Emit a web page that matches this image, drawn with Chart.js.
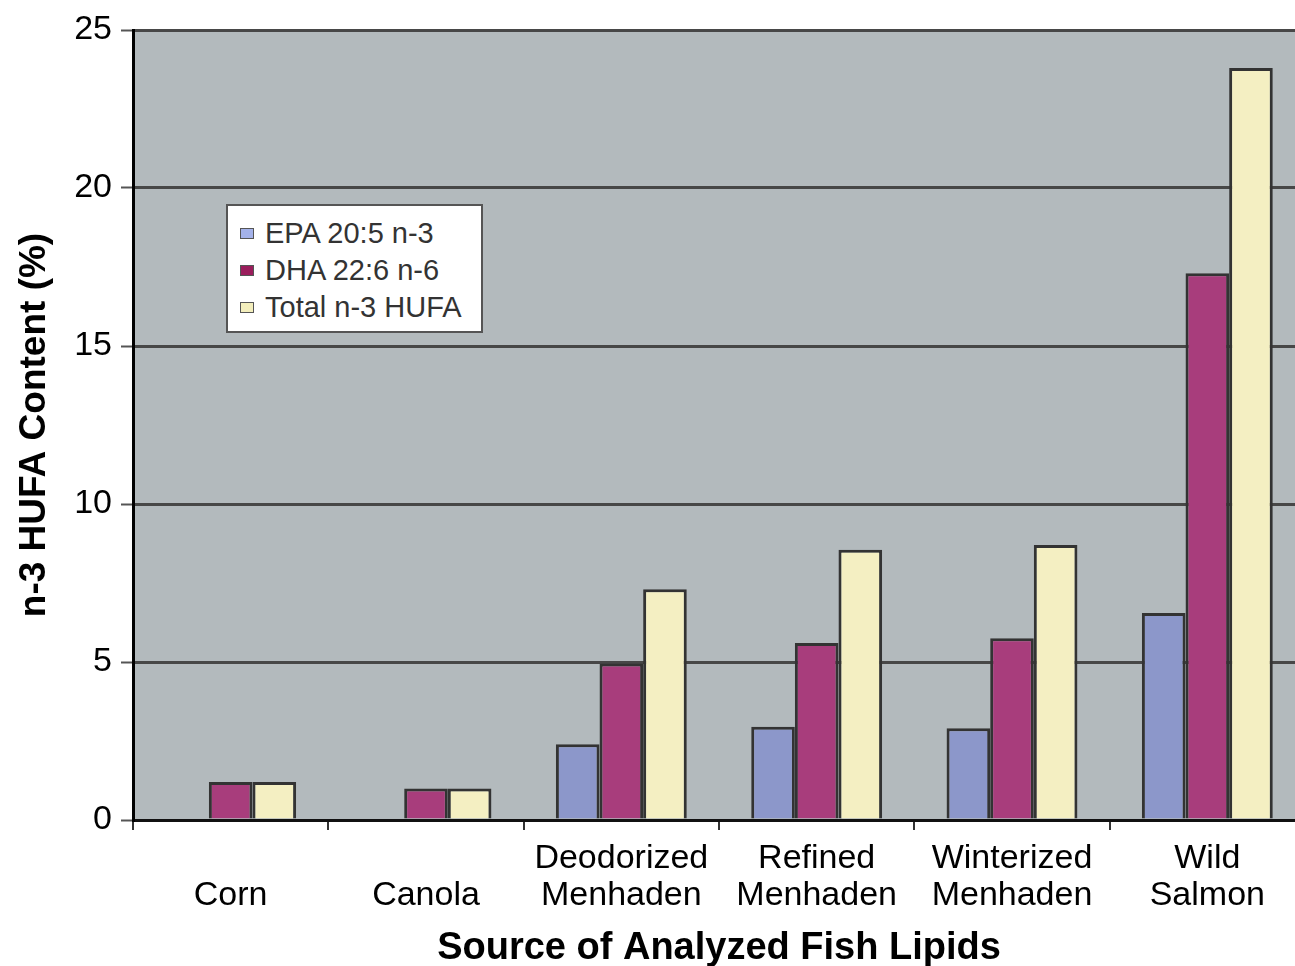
<!DOCTYPE html>
<html>
<head>
<meta charset="utf-8">
<title>n-3 HUFA Content</title>
<script src="https://cdn.jsdelivr.net/npm/chart.js@4"></script>
<style>
  html, body { margin: 0; padding: 0; background: #fff; overflow: hidden; }
  #wrap { position: relative; width: 1310px; height: 966px; }
  #legend {
    position: absolute; left: 226px; top: 204px; width: 253px; height: 125px;
    background: #fff; border: 2px solid #555;
    font-family: "Liberation Sans", Arial, sans-serif; font-size: 29px; color: #333;
  }
  #legend .row { position: absolute; left: 12px; height: 36px; line-height: 36px; white-space: nowrap; }
  #legend .sw { display: inline-block; width: 12px; height: 9px; border: 1px solid #555; margin-right: 11px; vertical-align: 4px; }
</style>
</head>
<body>
<div id="wrap">
  <canvas id="chart" width="1310" height="966"></canvas>
  <div id="legend"></div>
</div>
<script>
// categories (multi-line labels, bottom aligned like the original)
const categories = [
  ['', 'Corn'],
  ['', 'Canola'],
  ['Deodorized', 'Menhaden'],
  ['Refined', 'Menhaden'],
  ['Winterized', 'Menhaden'],
  ['Wild', 'Salmon']
];

const seriesNames = ['EPA 20:5 n-3', 'DHA 22:6 n-6', 'Total n-3 HUFA'];

const epa   = [0,   0,   2.4, 2.95, 2.9, 6.55];
const dha   = [1.2, 1.0, 4.95, 5.6, 5.75, 17.3];
const total = [1.2, 1.0, 7.3, 8.55, 8.7, 23.8];

const fills   = ['#8c97ca', '#a83d7c', '#f4efc2'];
const swatch  = ['#a4b2ea', '#9a1d5c', '#f3eebc'];

const FONT = '"Liberation Sans", Arial, sans-serif';

// grey plot background
const plotBg = {
  id: 'plotBg',
  beforeDraw(chart) {
    const { ctx, chartArea: a } = chart;
    ctx.save();
    ctx.fillStyle = '#b3babd';
    ctx.fillRect(a.left, a.top, a.right - a.left, a.bottom - a.top);
    ctx.restore();
  }
};

const ctx = document.getElementById('chart').getContext('2d');
const chart = new Chart(ctx, {
  type: 'bar',
  data: {
    labels: categories,
    datasets: [epa, dha, total].map((d, i) => ({
      label: seriesNames[i],
      data: d,
      backgroundColor: fills[i],
      borderColor: '#333',
      borderWidth: 3,
      categoryPercentage: 0.67,
      barPercentage: 1.0
    }))
  },
  options: {
    responsive: false,
    animation: false,
    layout: { padding: { top: 30, right: 5, left: 0, bottom: 0 } },
    plugins: {
      legend: { display: false },
      tooltip: { enabled: false }
    },
    scales: {
      x: {
        grid: {
          offset: true,
          drawOnChartArea: false,
          drawTicks: true,
          tickLength: 10,
          color: '#333',
          lineWidth: 2
        },
        border: { color: '#111', width: 3 },
        ticks: {
          color: '#000',
          padding: 10,
          maxRotation: 0,
          autoSkip: false,
          font: { family: FONT, size: 34, lineHeight: 1.1 }
        },
        title: {
          display: true,
          text: 'Source of Analyzed Fish Lipids',
          color: '#000',
          padding: { top: 0, bottom: -2 },
          font: { family: FONT, size: 38, weight: 'bold', lineHeight: 1 }
        },
        afterFit(scale) { scale.height = 146; }
      },
      y: {
        min: 0,
        max: 25,
        ticks: {
          stepSize: 5,
          color: '#000',
          padding: 9,
          font: { family: FONT, size: 34 }
        },
        grid: {
          color: '#474747',
          lineWidth: 3,
          tickLength: 12,
          tickColor: '#555',
          tickWidth: 2
        },
        border: { color: '#000', width: 3 },
        title: {
          display: true,
          text: 'n-3 HUFA Content (%)',
          color: '#000',
          padding: { top: 16, bottom: 0 },
          font: { family: FONT, size: 37, weight: 'bold', lineHeight: 1 }
        },
        afterFit(scale) { scale.width = 133; }
      }
    }
  },
  plugins: [plotBg]
});

// legend box inside the plot
const legend = document.getElementById('legend');
seriesNames.forEach((name, i) => {
  const row = document.createElement('div');
  row.className = 'row';
  row.style.top = (9 + i * 37) + 'px';
  const sw = document.createElement('span');
  sw.className = 'sw';
  sw.style.background = swatch[i];
  row.appendChild(sw);
  row.appendChild(document.createTextNode(name));
  legend.appendChild(row);
});
</script>
</body>
</html>
